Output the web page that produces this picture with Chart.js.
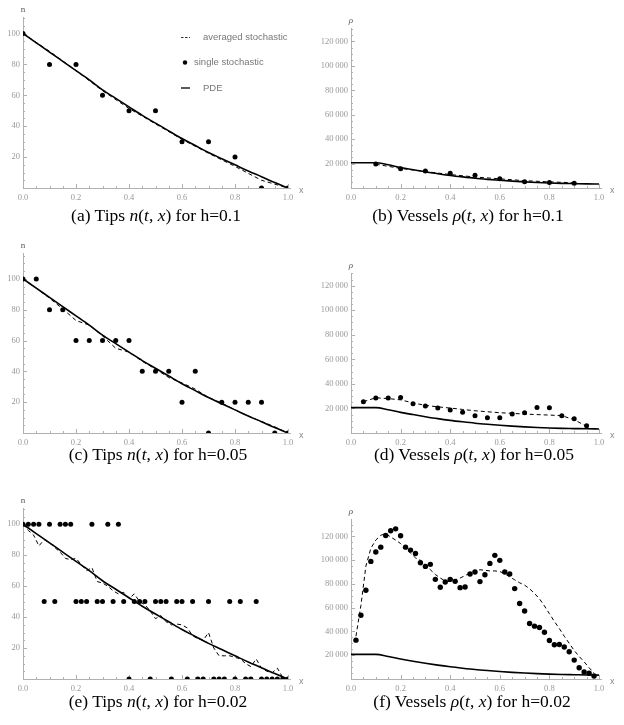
<!DOCTYPE html>
<html>
<head>
<meta charset="utf-8">
<script src="https://cdn.jsdelivr.net/npm/chart.js@4/dist/chart.umd.min.js"></script>
<style>
  body { margin: 0; background: #fff; width: 624px; height: 725px; position: relative; overflow: hidden; }
  canvas { position: absolute; }
  .cap { position: absolute; width: 312px; text-align: center; line-height: 20px; font-family: "Liberation Serif", "DejaVu Serif", serif; font-size: 17.5px; color: #000; white-space: nowrap; }
</style>
</head>
<body>
<canvas id="pa" width="312" height="206" style="left:0;top:0"></canvas>
<canvas id="pb" width="312" height="206" style="left:312px;top:0"></canvas>
<canvas id="pc" width="312" height="206" style="left:0;top:240px"></canvas>
<canvas id="pd" width="312" height="206" style="left:312px;top:240px"></canvas>
<canvas id="pe" width="312" height="215" style="left:0;top:480px"></canvas>
<canvas id="pf" width="312" height="215" style="left:312px;top:480px"></canvas>

<div class="cap" style="left:0px;top:205px">(a) Tips <i>n</i>(<i>t</i>, <i>x</i>) for h=0.1</div>
<div class="cap" style="left:312px;top:205px">(b) Vessels <i>ρ</i>(<i>t</i>, <i>x</i>) for h=0.1</div>
<div class="cap" style="left:2px;top:444px">(c) Tips <i>n</i>(<i>t</i>, <i>x</i>) for h=0.05</div>
<div class="cap" style="left:318px;top:444px">(d) Vessels <i>ρ</i>(<i>t</i>, <i>x</i>) for h=0.05</div>
<div class="cap" style="left:2px;top:691px">(e) Tips <i>n</i>(<i>t</i>, <i>x</i>) for h=0.02</div>
<div class="cap" style="left:316px;top:691px">(f) Vessels <i>ρ</i>(<i>t</i>, <i>x</i>) for h=0.02</div>

<script>
// x grids
const X10 = [0, 0.1, 0.2, 0.3, 0.4, 0.5, 0.6, 0.7, 0.8, 0.9, 1.0];
const X05 = [0, 0.05, 0.1, 0.15, 0.2, 0.25, 0.3, 0.35, 0.4, 0.45, 0.5, 0.55, 0.6, 0.65, 0.7, 0.75, 0.8, 0.85, 0.9, 0.95, 1.0];
const X02 = [0, 0.02, 0.04, 0.06, 0.08, 0.1, 0.12, 0.14, 0.16, 0.18, 0.2, 0.22, 0.24, 0.26, 0.28, 0.3, 0.32, 0.34, 0.36, 0.38,
  0.4, 0.42, 0.44, 0.46, 0.48, 0.5, 0.52, 0.54, 0.56, 0.58, 0.6, 0.62, 0.64, 0.66, 0.68, 0.7, 0.72, 0.74, 0.76, 0.78,
  0.8, 0.82, 0.84, 0.86, 0.88, 0.9, 0.92, 0.94, 0.96, 0.98, 1.0];
const X10_INNER = [0.1, 0.2, 0.3, 0.4, 0.5, 0.6, 0.7, 0.8, 0.9];
const X05_INNER = [0.05, 0.1, 0.15, 0.2, 0.25, 0.3, 0.35, 0.4, 0.45, 0.5, 0.55, 0.6, 0.65, 0.7, 0.75, 0.8, 0.85, 0.9, 0.95];
const X02_INNER = [0.02, 0.04, 0.06, 0.08, 0.1, 0.12, 0.14, 0.16, 0.18, 0.2, 0.22, 0.24, 0.26, 0.28, 0.3, 0.32, 0.34, 0.36, 0.38,
  0.4, 0.42, 0.44, 0.46, 0.48, 0.5, 0.52, 0.54, 0.56, 0.58, 0.6, 0.62, 0.64, 0.66, 0.68, 0.7, 0.72, 0.74, 0.76, 0.78,
  0.8, 0.82, 0.84, 0.86, 0.88, 0.9, 0.92, 0.94, 0.96, 0.98];

// PDE solutions (same in every row)
const PDE_TIPS = [100, 94, 88, 82, 76, 70, 63.5, 58, 52.5, 47, 42, 37, 32, 27.5, 23, 19, 15, 11, 7.3, 3.5, 0];
const PDE_VESSELS = [20700, 20700, 20700, 19000, 16800, 15000, 13300, 11700, 10300, 9100, 8000, 7100, 6300, 5600, 5000, 4500, 4100, 3800, 3600, 3400, 3300];

// h = 0.1
const TIPS_AVG_10 = [100, 88.5, 76, 63, 51.5, 41.5, 31.5, 22.5, 14, 5, 0];
const TIPS_ONE_10 = [100, 80, 80, 60, 50, 50, 30, 30, 20, 0, 0];
const VES_AVG_10 = [19500, 16000, 13500, 11000, 9000, 7500, 6000, 5000, 4300];
const VES_ONE_10 = [19600, 15700, 13900, 12000, 10400, 7600, 5200, 4600, 3800];

// h = 0.05
const TIPS_AVG_05 = [100, 94, 87.5, 80.5, 73, 70, 63, 55, 52.5, 46.5, 41.5, 36, 32.5, 28.5, 23, 19.5, 15, 11, 7.5, 4, 0];
const TIPS_ONE_05 = [100, 100, 80, 80, 60, 60, 60, 60, 60, 40, 40, 40, 20, 40, 0, 20, 20, 20, 20, 0, 0];
const VES_AVG_05 = [25500, 28700, 28000, 27000, 24500, 22500, 21300, 20300, 19200, 18100, 17300, 16500, 16000, 15400, 15000, 14600, 14100, 10800, 5400];
const VES_ONE_05 = [25500, 28500, 28500, 29000, 23800, 22000, 20300, 18700, 16800, 14100, 12500, 12500, 15400, 16500, 20800, 20600, 14100, 11700, 6000];

// h = 0.02
const TIPS_AVG_02 = [100, 96, 93, 86, 90, 88, 85, 82, 78, 77, 78, 74, 70, 72, 63, 62, 60, 57, 55, 56,
  52, 55, 50, 48, 44, 39, 41, 37, 35, 35.5, 35, 33, 28, 26, 25, 30, 20, 15, 15, 15,
  14, 13, 10, 8, 13, 7, 5, 4, 7, 1, 0];
const TIPS_ONE_02 = [100, 100, 100, 100, 50, 100, 50, 100, 100, 100, 50, 50, 50, 100, 50, 50, 100, 50, 100, 50,
  0, 50, 50, 50, 0, 50, 50, 50, 0, 50, 50, 0, 50, 0, 0, 50, 0, 0, 0, 50,
  0, 50, 0, 0, 50, 0, 0, 0, 0, 0, 0];
const VES_AVG_02 = [36000, 62000, 95000, 110000, 117000, 121000, 122500, 119500, 117000, 114000,
  110000, 106000, 102000, 100000, 96000, 92000, 88000, 85000, 82500, 82000,
  83500, 85000, 87000, 89500, 91000, 92000, 91500, 91000, 91000, 90500,
  88500, 86000, 83500, 81000, 79000, 76000, 72000, 67500, 61500, 55000,
  48500, 42500, 36000, 30000, 24000, 19000, 14500, 9500, 5000];
const VES_ONE_02 = [32700, 53700, 74700, 99000, 106900, 111000, 120800, 124800, 126400, 120600,
  111000, 108500, 105700, 97900, 94800, 96500, 83900, 77200, 81700, 83900,
  82200, 76900, 77500, 88400, 90100, 82000, 87800, 97300, 104100, 99900,
  90100, 88400, 76100, 63500, 57300, 46700, 44500, 43400, 39400, 32400,
  28800, 29100, 26900, 22900, 15900, 9500, 5900, 4800, 2500];

const TIPS_TICKS = [20, 40, 60, 80, 100];
const VES_TICKS = [20000, 40000, 60000, 80000, 100000, 120000];

const pts = (xs, ys) => xs.map((x, i) => ({ x, y: ys[i] }));
const fmt = v => String(v).replace(/\B(?=(\d{3})+$)/g, '\u2009');

// Mathematica-like axes: thin gray lines with inward ticks, labels at the ends
const axesPlugin = {
  id: 'mmaAxes',
  beforeDatasetsDraw(chart, args, o) {
    const { ctx, chartArea: a, scales: { x, y } } = chart;
    ctx.save();
    ctx.strokeStyle = '#b0b0b0';
    ctx.lineWidth = 1;
    ctx.beginPath();
    ctx.moveTo(a.left, a.bottom + 0.5); ctx.lineTo(a.right + 3, a.bottom + 0.5);
    ctx.moveTo(a.left + 0.5, a.bottom); ctx.lineTo(a.left + 0.5, a.top);
    ctx.stroke();
    ctx.beginPath();
    for (let k = 1; k <= 20; k++) {
      const px = Math.round(x.getPixelForValue(k * 0.05)) + 0.5;
      ctx.moveTo(px, a.bottom); ctx.lineTo(px, a.bottom - (k % 4 === 0 ? 4 : 2));
    }
    for (let k = 1; k * o.yMinor <= y.max; k++) {
      const py = Math.round(y.getPixelForValue(k * o.yMinor)) + 0.5;
      ctx.moveTo(a.left, py); ctx.lineTo(a.left + (k % 4 === 0 ? 4 : 2), py);
    }
    ctx.stroke();
    ctx.fillStyle = '#555';
    ctx.font = (o.italic ? 'italic ' : '') + '9px "Liberation Serif"';
    ctx.textAlign = 'center'; ctx.textBaseline = 'bottom';
    ctx.fillText(o.yLabel, a.left, a.top - 3);
    ctx.font = '9px "Liberation Sans"';
    ctx.fillStyle = '#888';
    ctx.textAlign = 'left'; ctx.textBaseline = 'middle';
    ctx.fillText('x', a.right + 11, a.bottom + 3);
    ctx.restore();
  }
};

const legendPlugin = {
  id: 'mmaLegend',
  afterDraw(chart, args, o) {
    if (!o.show) return;
    const ctx = chart.ctx;
    const ds = chart.data.datasets;
    ctx.save();
    ctx.font = '9.5px "Liberation Sans"';
    ctx.fillStyle = '#777';
    ctx.textAlign = 'left'; ctx.textBaseline = 'middle';
    ctx.strokeStyle = '#333';
    ctx.lineWidth = 1.2;
    ctx.setLineDash([2.5, 1.5]);
    ctx.beginPath(); ctx.moveTo(181, 37.5); ctx.lineTo(190, 37.5); ctx.stroke();
    ctx.fillText(ds[1].label, 203, 37.5);
    ctx.setLineDash([]);
    ctx.fillStyle = '#000';
    ctx.beginPath(); ctx.arc(185, 62.5, 2.2, 0, Math.PI * 2); ctx.fill();
    ctx.fillStyle = '#777';
    ctx.fillText(ds[2].label, 194, 62.5);
    ctx.lineWidth = 1.6;
    ctx.beginPath(); ctx.moveTo(181, 88); ctx.lineTo(190, 88); ctx.stroke();
    ctx.fillText(ds[0].label, 203, 88);
    ctx.restore();
  }
};

function panel(id, c) {
  const cv = document.getElementById(id);
  const [L, T, R, B] = c.area;
  const tickFont = { family: 'Liberation Serif', size: 8.5 };
  return new Chart(cv, {
    type: 'scatter',
    data: {
      datasets: [
        { label: 'PDE', data: pts(c.pdeX, c.pde), showLine: true, borderColor: '#000', borderWidth: 1.6,
          pointRadius: 0, cubicInterpolationMode: 'monotone', order: 2 },
        { label: 'averaged stochastic', data: pts(c.avgX, c.avg), showLine: true, borderColor: '#000', borderWidth: 1,
          borderDash: [4, 3], pointRadius: 0, order: 1 },
        { label: 'single stochastic', data: pts(c.oneX, c.one), showLine: false, pointRadius: c.dot || 2.5,
          backgroundColor: '#000', borderWidth: 0, order: 0 }
      ]
    },
    options: {
      responsive: false,
      animation: false,
      layout: { padding: { left: 0, top: T, right: cv.width - R, bottom: 0 } },
      plugins: {
        legend: { display: false },
        tooltip: { enabled: false },
        mmaAxes: { yLabel: c.yLabel, italic: c.italic, yMinor: c.yMinor },
        mmaLegend: { show: !!c.legend }
      },
      scales: {
        x: {
          type: 'linear', min: 0, max: 1,
          grid: { display: false, drawTicks: false }, border: { display: false },
          ticks: { stepSize: 0.2, callback: v => v.toFixed(1), color: '#999', font: tickFont, padding: 5, maxRotation: 0 },
          afterFit: s => { s.height = cv.height - B; }
        },
        y: {
          min: 0, max: c.ymax,
          grid: { display: false, drawTicks: false }, border: { display: false },
          afterBuildTicks: s => { s.ticks = c.yTicks.map(v => ({ value: v })); },
          ticks: { callback: v => fmt(v), color: '#999', font: tickFont, padding: 3 },
          afterFit: s => { s.width = L; }
        }
      }
    },
    plugins: [axesPlugin, legendPlugin]
  });
}

panel('pa', { area: [23, 17, 288, 188], ymax: 110.7, yTicks: TIPS_TICKS, yMinor: 5, yLabel: 'n', legend: true,
  pdeX: X05, pde: PDE_TIPS, avgX: X10, avg: TIPS_AVG_10, oneX: X10, one: TIPS_ONE_10 });
panel('pb', { area: [39, 28, 287, 188], ymax: 131000, yTicks: VES_TICKS, yMinor: 5000, yLabel: 'ρ', italic: true,
  pdeX: X05, pde: PDE_VESSELS, avgX: X10_INNER, avg: VES_AVG_10, oneX: X10_INNER, one: VES_ONE_10 });
panel('pc', { area: [23, 13, 288, 193], ymax: 116.8, yTicks: TIPS_TICKS, yMinor: 5, yLabel: 'n',
  pdeX: X05, pde: PDE_TIPS, avgX: X05, avg: TIPS_AVG_05, oneX: X05, one: TIPS_ONE_05 });
panel('pd', { area: [39, 33, 287, 193], ymax: 130300, yTicks: VES_TICKS, yMinor: 5000, yLabel: 'ρ', italic: true,
  pdeX: X05, pde: PDE_VESSELS, avgX: X05_INNER, avg: VES_AVG_05, oneX: X05_INNER, one: VES_ONE_05 });
panel('pe', { area: [23, 28, 288, 199], ymax: 110.5, yTicks: TIPS_TICKS, yMinor: 5, yLabel: 'n',
  pdeX: X05, pde: PDE_TIPS, avgX: X02, avg: TIPS_AVG_02, oneX: X02, one: TIPS_ONE_02 });
panel('pf', { area: [39, 39, 287, 199], ymax: 134700, yTicks: VES_TICKS, yMinor: 5000, yLabel: 'ρ', italic: true, dot: 2.7,
  pdeX: X05, pde: PDE_VESSELS, avgX: X02_INNER, avg: VES_AVG_02, oneX: X02_INNER, one: VES_ONE_02 });
</script>
</body>
</html>
